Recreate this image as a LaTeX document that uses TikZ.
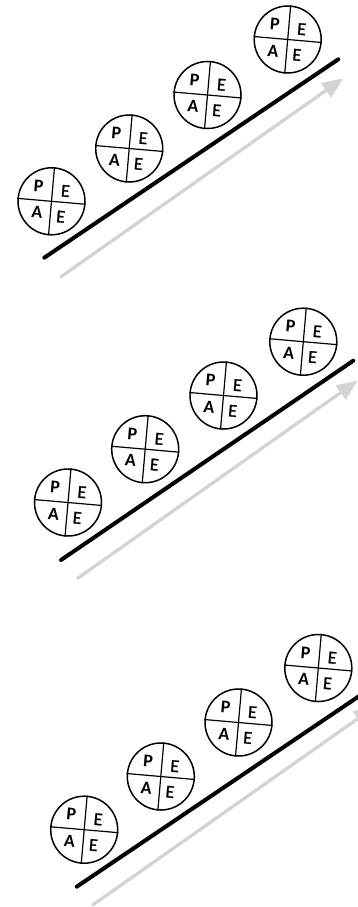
\documentclass[tikz,border=0pt]{standalone}
\usepackage{fontspec}
\setmainfont{Carlito}
\newfontfamily\efont{Carlito}[FakeBold=1.2]
\usetikzlibrary{arrows.meta}
\definecolor{arrowgray}{RGB}{212,212,212}
\newcommand{\peafont}{\fontsize{18}{18}\selectfont}
\tikzset{
  ring/.style={circle, draw, line width=1.5pt, minimum size=67pt, inner sep=0pt, fill=white},
  crossline/.style={line width=1.2pt},
  lt/.style={inner sep=0pt, rotate=-5, font=\peafont},
  ramp/.style={line width=4pt, line cap=round},
  progress/.style={arrowgray, line width=3.3pt, line cap=round, -{Triangle[length=21pt,width=17pt]}},
  pea/.pic={
    \node[ring] (-c) at (0,0) {};
    \draw[crossline] (-c.85) -- (-c.265);
    \draw[crossline] (-c.175) -- (-c.355);
    \begin{scope}[rotate=-5]
      \node[lt] (-p) at (-14,-14) {\bfseries P};
      \node[lt] (-e1) at (13,-11.5) {\efont E};
      \node[lt] (-a) at (-13.5,12.5) {\bfseries A};
      \node[lt] (-e2) at (10.5,14.5) {\efont E};
    \end{scope}
  }
}
\begin{document}
\begin{tikzpicture}[x=1pt, y=-1pt]
\useasboundingbox (0,0) rectangle (358,907);
\clip (0,0) rectangle (358,907);
% panel 1
\coordinate (l1s) at (44.3,257.7);
\coordinate (l1e) at (338.3,59.3);
\coordinate (g1s) at (61,276.7);
\coordinate (g1e) at (343.3,78.3);
\draw[progress] (g1s) -- (g1e);
\draw[ramp] (l1s) -- (l1e);
\pic (p1a) at (51.5,201.3) {pea};
\pic (p1b) at (129.2,148.5) {pea};
\pic (p1c) at (207.5,95) {pea};
\pic (p1d) at (287.7,39.5) {pea};
% panel 2
\coordinate (l2s) at (61,560);
\coordinate (l2e) at (353.3,360.7);
\coordinate (g2s) at (77.7,578.3);
\coordinate (g2e) at (357.8,380.5);
\draw[progress] (g2s) -- (g2e);
\draw[ramp] (l2s) -- (l2e);
\pic (p2a) at (68,502.5) {pea};
\pic (p2b) at (145.2,449.2) {pea};
\pic (p2c) at (223.5,395.5) {pea};
\pic (p2d) at (303.3,341.7) {pea};
% panel 3
\coordinate (l3s) at (76.7,886.7);
\coordinate (l3e) at (370.7,688.3);
\coordinate (g3s) at (92.7,905);
\coordinate (g3e) at (375,706.6);
\draw[progress] (g3s) -- (g3e);
\draw[ramp] (l3s) -- (l3e);
\pic (p3a) at (84.2,829.7) {pea};
\pic (p3b) at (160.8,776.5) {pea};
\pic (p3c) at (238.5,722.5) {pea};
\pic (p3d) at (318.3,668) {pea};
\end{tikzpicture}
\end{document}
